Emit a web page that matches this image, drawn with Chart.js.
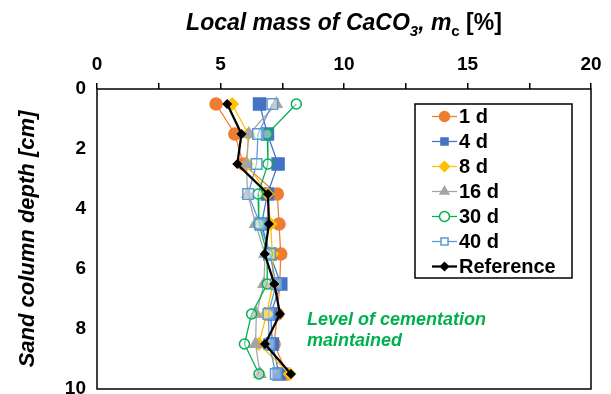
<!DOCTYPE html>
<html>
<head>
<meta charset="utf-8">
<script src="https://cdn.jsdelivr.net/npm/chart.js@4"></script>
<style>
  html, body { margin: 0; padding: 0; background: #fff; }
</style>
</head>
<body>
<canvas id="chart" width="611" height="394"></canvas>
<script>
// depth of each sample [cm]
const depths = [0.5, 1.5, 2.5, 3.5, 4.5, 5.5, 6.5, 7.5, 8.5, 9.5];

// local CaCO3 mass [%] per curing time
const d1   = [4.82, 5.58, 5.92, 7.30, 7.37, 7.44, 7.40, 7.30, 7.17, 7.70];
const d4   = [6.58, 6.90, 7.33, 6.90, 6.66, 7.00, 7.44, 7.03, 7.10, 7.37];
const d8   = [5.47, 6.12, 6.08, 6.90, 7.03, 7.10, 7.12, 6.87, 6.55, 7.80];
const d16  = [7.26, 6.15, 6.04, 6.10, 6.42, 6.80, 6.76, 6.45, 6.42, 6.60];
const d30  = [8.07, 6.89, 6.92, 6.52, 6.55, 6.90, 6.89, 6.26, 5.97, 6.56];
const d40  = [7.10, 6.52, 6.46, 6.12, 6.60, 7.00, 7.25, 6.94, 6.97, 7.24];
const ref  = [5.27, 5.85, 5.68, 6.92, 6.96, 6.79, 7.18, 7.41, 6.80, 7.85];

const seriesNames = ['1 d', '4 d', '8 d', '16 d', '30 d', '40 d', 'Reference'];
const xTicks = [0, 5, 10, 15, 20];
const yTicks = [0, 2, 4, 6, 8, 10];

const FONT = '"Liberation Sans", Arial, sans-serif';

function pts(vals) {
  return vals.map((v, i) => ({ x: v, y: depths[i] }));
}

function series(label, vals, color, style, radius, fill, width, order) {
  return {
    label: label,
    data: pts(vals),
    showLine: true,
    borderColor: color,
    borderWidth: width,
    pointStyle: style,
    pointRadius: radius,
    pointHoverRadius: radius,
    pointBackgroundColor: fill,
    pointBorderColor: color,
    pointBorderWidth: 1.5,
    tension: 0,
    order: order
  };
}

const datasets = [
  series(seriesNames[0], d1,  '#ED7D31', 'circle',   6,   '#ED7D31', 1.25, 6),
  series(seriesNames[1], d4,  '#4472C4', 'rect',     8.5, '#4472C4', 1.25, 5),
  series(seriesNames[2], d8,  '#FFC000', 'rectRot',  6,   '#FFC000', 1.25, 4),
  series(seriesNames[3], d16, '#A5A5A5', 'triangle', 6.5, '#A5A5A5', 1.25, 3),
  series(seriesNames[4], d30, '#00B050', 'circle',   5,   'rgba(255,255,255,0.4)', 1.25, 2),
  series(seriesNames[5], d40, '#5B9BD5', 'rect',     7.5, 'rgba(255,255,255,0.4)', 1.25, 1),
  series(seriesNames[6], ref, '#000000', 'rectRot',  4,   '#000000', 2.25, 0)
];

// frame, titles, legend and note
const decor = {
  id: 'decor',
  afterDraw(chart) {
    const ctx = chart.ctx;
    const a = chart.chartArea;
    ctx.save();

    // plot frame
    ctx.strokeStyle = '#000';
    ctx.lineWidth = 1.5;
    ctx.strokeRect(a.left, a.top, a.right - a.left, a.bottom - a.top);

    // x title with subscripts
    const cx = (a.left + a.right) / 2;
    const parts = [
      ['Local mass of CaCO', 'bold italic 23px ' + FONT, 0],
      ['3', 'bold italic 15px ' + FONT, 6],
      [', ', 'bold italic 23px ' + FONT, 0],
      ['m', 'bold italic 23px ' + FONT, 0],
      ['c', 'bold 15px ' + FONT, 6],
      [' [%]', 'bold 23px ' + FONT, 0]
    ];
    let total = 0;
    parts.forEach(p => { ctx.font = p[1]; total += ctx.measureText(p[0]).width; });
    let x = cx - total / 2;
    ctx.fillStyle = '#000';
    ctx.textBaseline = 'alphabetic';
    ctx.textAlign = 'left';
    parts.forEach(p => {
      ctx.font = p[1];
      ctx.fillText(p[0], x, 30 + p[2]);
      x += ctx.measureText(p[0]).width;
    });

    // y title
    ctx.save();
    ctx.translate(28, (a.top + a.bottom) / 2);
    ctx.rotate(-Math.PI / 2);
    ctx.font = 'bold italic 22px ' + FONT;
    ctx.textAlign = 'center';
    ctx.textBaseline = 'middle';
    ctx.fillText('Sand column depth [cm]', 0, 0);
    ctx.restore();

    // legend
    const lx = 415, ly = 104, lw = 157, lh = 174;
    ctx.fillStyle = '#fff';
    ctx.fillRect(lx, ly, lw, lh);
    ctx.strokeStyle = '#000';
    ctx.lineWidth = 1.5;
    ctx.strokeRect(lx, ly, lw, lh);
    ctx.font = 'bold 20px ' + FONT;
    ctx.textBaseline = 'middle';
    chart.data.datasets.forEach((ds, i) => {
      const yy = ly + 12.5 + i * 25;
      ctx.strokeStyle = ds.borderColor;
      ctx.lineWidth = ds.borderWidth;
      ctx.beginPath();
      ctx.moveTo(lx + 17, yy);
      ctx.lineTo(lx + 42, yy);
      ctx.stroke();
      ctx.fillStyle = ds.pointBackgroundColor.startsWith('#') ? ds.pointBackgroundColor : '#fff';
      ctx.strokeStyle = ds.pointBorderColor;
      ctx.lineWidth = ds.pointBorderWidth;
      Chart.helpers.drawPoint(ctx, {
        pointStyle: ds.pointStyle,
        radius: Math.min(ds.pointRadius, 5),
        rotation: 0,
        borderWidth: ds.pointBorderWidth
      }, lx + 29.5, yy);
      ctx.fillStyle = '#000';
      ctx.fillText(ds.label, lx + 44, yy + 1);
    });

    // note
    ctx.fillStyle = '#00B050';
    ctx.font = 'bold italic 18px ' + FONT;
    ctx.textBaseline = 'middle';
    ctx.fillText('Level of cementation', 307, 320);
    ctx.fillText('maintained', 307, 341);

    ctx.restore();
  }
};

new Chart(document.getElementById('chart'), {
  type: 'scatter',
  data: { datasets: datasets },
  options: {
    responsive: false,
    animation: false,
    layout: { autoPadding: false, padding: { left: 0, right: 20, top: 0, bottom: 5 } },
    plugins: {
      legend: { display: false },
      tooltip: { enabled: false },
      title: { display: false }
    },
    scales: {
      x: {
        type: 'linear',
        position: 'top',
        min: 0,
        max: 20,
        afterFit(scale) { scale.height = 89; },
        afterBuildTicks(scale) {
          scale.ticks = [0, 2.5, 5, 7.5, 10, 12.5, 15, 17.5, 20].map(v => ({ value: v }));
        },
        ticks: {
          autoSkip: false,
          maxRotation: 0,
          padding: 7,
          color: '#000',
          font: { family: FONT, size: 19, weight: 'bold' },
          callback: v => xTicks.includes(v) ? String(v) : ''
        },
        grid: {
          drawOnChartArea: false,
          drawTicks: true,
          tickLength: 6,
          color: '#000',
          lineWidth: 1.5
        },
        border: { display: false }
      },
      y: {
        type: 'linear',
        position: 'left',
        reverse: true,
        min: 0,
        max: 10,
        afterFit(scale) { scale.width = 97; },
        afterBuildTicks(scale) {
          scale.ticks = yTicks.map(v => ({ value: v }));
        },
        ticks: {
          autoSkip: false,
          padding: 0,
          color: '#000',
          font: { family: FONT, size: 19, weight: 'bold', lineHeight: 0.05 }
        },
        // invisible tick marks keep the labels clear of the axis
        grid: {
          display: true,
          drawOnChartArea: false,
          drawTicks: true,
          tickLength: 11,
          color: 'rgba(0,0,0,0)'
        },
        border: { display: false }
      }
    }
  },
  plugins: [decor]
});
</script>
</body>
</html>
